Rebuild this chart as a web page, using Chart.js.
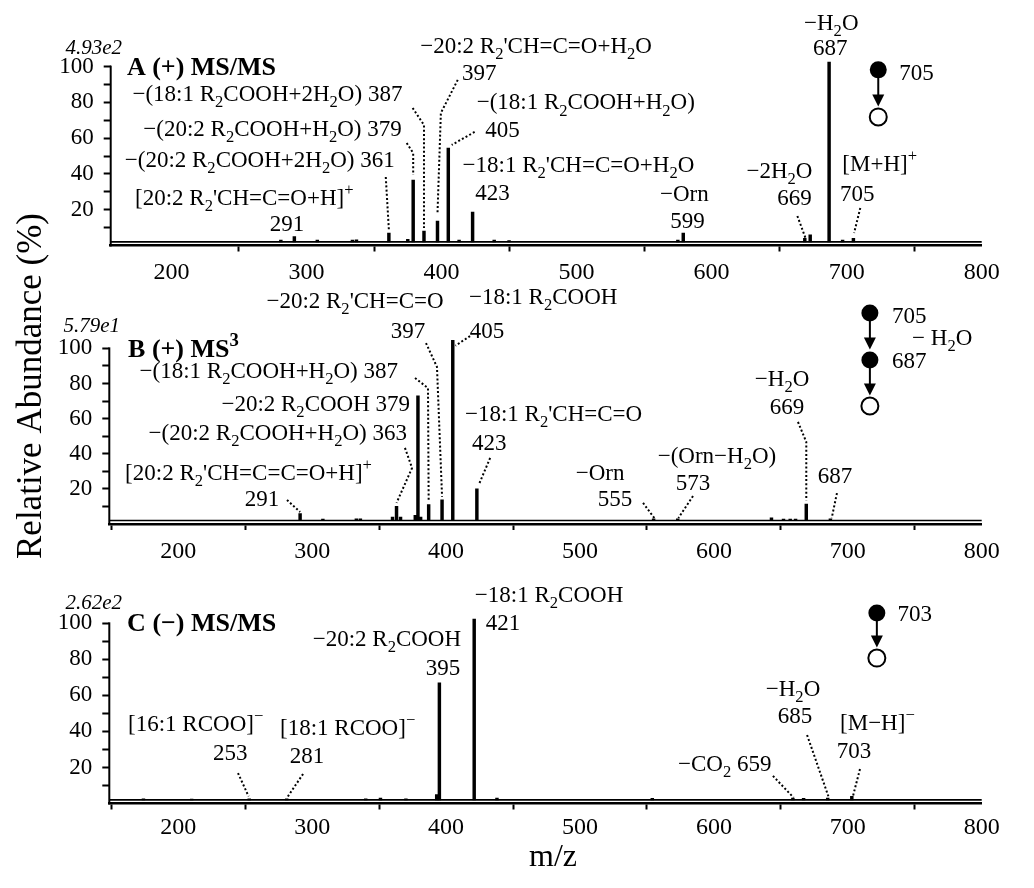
<!DOCTYPE html>
<html><head><meta charset="utf-8">
<script src="https://cdn.jsdelivr.net/npm/chart.js@4.4.1/dist/chart.umd.min.js"></script>
<style>
html,body{margin:0;padding:0;background:#fff;}
#wrap{position:relative;width:1034px;height:888px;background:#fff;}
canvas{position:absolute;left:0;top:0;}
</style></head><body>
<div id="wrap">
<canvas id="cA" width="1034" height="888"></canvas>
<canvas id="cB" width="1034" height="888"></canvas>
<canvas id="cC" width="1034" height="888"></canvas>
</div>
<script>
// ---------- DATA ----------
const xTickValues = [200, 300, 400, 500, 600, 700, 800];
const yTickValues = [10, 20, 30, 40, 50, 60, 70, 80, 90, 100];
const yTickLabels = [20, 40, 60, 80, 100];
const noiseFloor = 2;

// Panel A: (+) MS/MS of m/z 705
const mzA = [281, 291, 308, 334, 337, 361, 375, 379, 387, 397, 405, 413, 423, 439, 450, 575, 579, 669, 673, 687, 697, 705];
const abA = [3, 5, 3, 3, 3.2, 7, 3.5, 36.6, 8, 13.7, 54.5, 3, 18.7, 3, 2.8, 3, 7, 4, 6, 102.6, 3, 4];

// Panel B: (+) MS3 705 -> 687
const mzB = [291, 308, 333, 336, 360, 363, 366, 377, 379, 381, 387, 397, 405, 423, 555, 573, 643, 652, 657, 661, 669, 687];
const abB = [6, 2.8, 3, 3, 4, 10, 4, 5, 73, 4, 11, 13.7, 104.5, 20, 3, 3, 3.5, 2.8, 2.8, 2.8, 11.4, 3];

// Panel C: (-) MS/MS of m/z 703
const mzC = [174, 210, 253, 281, 340, 351, 370, 393, 395, 421, 438, 554, 659, 667, 685, 703];
const abC = [2.6, 2.5, 2.6, 2.6, 2.6, 3, 2.6, 5, 66.9, 102.4, 3, 2.8, 3, 2.8, 3, 4];

// ---------- ANNOTATIONS (data coordinates) ----------
const notesA = [
 {t:'4.93e2', x:163.4, y:111, a:'right', f:'italic', s:21},
 {t:'A (+) MS/MS', x:167, y:100, a:'left', f:'bold', s:26},
 {t:"−20:2 R_{2}'CH=C=O+H_{2}O", x:470, y:112},
 {t:'397', x:428, y:97},
 {t:'−(18:1 R_{2}COOH+2H_{2}O) 387', x:371, y:85.3, a:'right'},
 {t:'−(20:2 R_{2}COOH+H_{2}O) 379', x:370.5, y:65.7, a:'right'},
 {t:'−(20:2 R_{2}COOH+2H_{2}O) 361', x:365.3, y:48.4, a:'right'},
 {t:"[20:2 R_{2}'CH=C=O+H]^{+}", x:173, y:27.1, a:'left'},
 {t:'291', x:285.5, y:12.6},
 {t:'−(18:1 R_{2}COOH+H_{2}O)', x:426, y:80.3, a:'left'},
 {t:'405', x:445.2, y:64.8},
 {t:"−18:1 R_{2}'CH=C=O+H_{2}O", x:415.6, y:45.6, a:'left'},
 {t:'423', x:437.7, y:29.9},
 {t:'−Orn', x:579.8, y:29.4},
 {t:'599', x:582.1, y:14.3},
 {t:'−2H_{2}O', x:650.2, y:42.2},
 {t:'669', x:661.3, y:27.1},
 {t:'−H_{2}O', x:688.6, y:125},
 {t:'687', x:687.9, y:110.5},
 {t:'[M+H]^{+}', x:696.8, y:46.1, a:'left'},
 {t:'705', x:707.9, y:29.4},
 {t:'705', x:738.9, y:97, a:'left'}
];
const leadersA = [
 [[412,92.6],[399.5,74.1],[397,18]],
 [[378.6,76.9],[387,67.4],[387,9.8]],
 [[374.2,57.3],[379,51.7],[379,39.4]],
 [[358.7,38.3],[361,8.7]],
 [[424.5,63.5],[407.5,56.2]],
 [[663.5,16.5],[669.5,4.2]],
 [[710.1,21],[705.5,7]]
];
const iconA = {x:723.4, nodes:[[98.2,1],[71.9,0]]};

const notesB = [
 {t:'5.79e1', x:156.5, y:113.3, a:'right', f:'italic', s:21},
 {t:'B (+) MS^{3}', x:162.5, y:100.2, a:'left', f:'bold', s:26},
 {t:"−20:2 R_{2}'CH=C=O", x:332, y:127.5},
 {t:'397', x:371.6, y:110.4},
 {t:'405', x:430.6, y:110.4},
 {t:'−18:1 R_{2}COOH', x:472.5, y:129.8},
 {t:'−(18:1 R_{2}COOH+H_{2}O) 387', x:364.1, y:87.6, a:'right'},
 {t:'−20:2 R_{2}COOH 379', x:373.1, y:68.9, a:'right'},
 {t:'−(20:2 R_{2}COOH+H_{2}O) 363', x:370.8, y:52.4, a:'right'},
 {t:"[20:2 R_{2}'CH=C=C=O+H]^{+}", x:160.3, y:29.6, a:'left'},
 {t:'291', x:262.5, y:14.8},
 {t:"−18:1 R_{2}'CH=C=O", x:414.1, y:63.2, a:'left'},
 {t:'423', x:432.2, y:46.7},
 {t:'−Orn', x:515, y:29.6},
 {t:'555', x:526.2, y:14.8},
 {t:'−(Orn−H_{2}O)', x:602.3, y:39.3},
 {t:'573', x:584.4, y:23.9},
 {t:'−H_{2}O', x:650.9, y:83.1},
 {t:'669', x:654.6, y:67.2},
 {t:'687', x:690.4, y:27.9},
 {t:'705', x:733, y:119, a:'left'},
 {t:'687', x:733, y:93.3, a:'left'},
 {t:'− H_{2}O', x:748, y:106.4, a:'left'}
];
const leadersB = [
 [[385,103],[393.2,89.4],[397,15.5]],
 [[417.9,107],[407,101.5]],
 [[376.8,83.1],[386.5,77.4],[387,13]],
 [[369.3,43.3],[374.6,31.9],[363,12]],
 [[281.2,13.7],[291,6.8]],
 [[432.9,37.6],[424.5,22.5]],
 [[547.1,12],[555.5,3.4]],
 [[584.4,15.9],[573.5,3.4]],
 [[662.8,58.1],[669,46.7],[669,13.5]],
 [[691.9,17.6],[688,3.4]]
];
const iconB = {x:716.5, nodes:[[120.1,1],[93.3,1],[67.2,0]]};

const notesC = [
 {t:'2.62e2', x:158, y:111.8, a:'right', f:'italic', s:21},
 {t:'C (−) MS/MS', x:161.8, y:100.7, a:'left', f:'bold', s:26},
 {t:'−18:1 R_{2}COOH', x:476.9, y:116.3},
 {t:'421', x:442.5, y:100.7},
 {t:'−20:2 R_{2}COOH', x:355.8, y:91.8},
 {t:'395', x:397.7, y:75.7},
 {t:'[16:1 RCOO]^{−}', x:162.5, y:44.7, a:'left'},
 {t:'253', x:238.8, y:28.6},
 {t:'[18:1 RCOO]^{−}', x:276, y:42.5, a:'left'},
 {t:'281', x:296.2, y:26.9},
 {t:'−CO_{2} 659', x:573.2, y:22.5, a:'left'},
 {t:'−H_{2}O', x:659.1, y:64.1},
 {t:'685', x:660.6, y:49.1},
 {t:'[M−H]^{−}', x:694.2, y:45.2, a:'left'},
 {t:'703', x:704.6, y:29.7},
 {t:'703', x:737.2, y:105.7, a:'left'}
];
const leadersC = [
 [[244.6,16.9],[252.5,4]],
 [[293.2,16.4],[281.5,3.5]],
 [[644.1,15.3],[659.5,3.3]],
 [[669.6,38],[685.5,4]],
 [[709.1,19.1],[704,4.5]]
];
const iconC = {x:721.7, nodes:[[105.7,1],[80.7,0]]};

// ---------- DRAWING ----------
const SERIF = "'Liberation Serif', 'Times New Roman', serif";

function richText(ctx, str, x, y, size, align, style) {
  const segs = [];
  const re = /([_^])\{([^}]*)\}/g;
  let last = 0, m;
  while ((m = re.exec(str))) {
    if (m.index > last) segs.push({t: str.slice(last, m.index), k: 0});
    segs.push({t: m[2], k: m[1] === '_' ? 1 : 2});
    last = re.lastIndex;
  }
  if (last < str.length) segs.push({t: str.slice(last), k: 0});
  const fontFor = k => `${style} ${k ? size * 0.72 : size}px ${SERIF}`;
  let w = 0;
  segs.forEach(s => { ctx.font = fontFor(s.k); s.w = ctx.measureText(s.t).width; w += s.w; });
  let cx = align === 'left' ? x : align === 'right' ? x - w : x - w / 2;
  const base = y + size * 0.33;
  ctx.textBaseline = 'alphabetic';
  ctx.textAlign = 'left';
  segs.forEach(s => {
    ctx.font = fontFor(s.k);
    const dy = s.k === 1 ? size * 0.28 : s.k === 2 ? -size * 0.42 : 0;
    ctx.fillText(s.t, cx, base + dy);
    cx += s.w;
  });
}

function panelPlugin(P) {
  return {
    id: 'ann' + P.name,
    afterDraw(chart) {
      const {ctx, chartArea: ca} = chart;
      const xs = chart.scales.x, ys = chart.scales.y;
      const X = v => xs.getPixelForValue(v), Y = v => ys.getPixelForValue(v);
      ctx.save();
      ctx.strokeStyle = '#000'; ctx.fillStyle = '#000';
      // y axis line 0..100
      ctx.lineWidth = 2;
      ctx.beginPath(); ctx.moveTo(ca.left, Y(0) + 1); ctx.lineTo(ca.left, Y(100) - 1); ctx.stroke();
      // spectrum baseline
      ctx.lineWidth = 1.6;
      ctx.beginPath(); ctx.moveTo(ca.left, Y(noiseFloor)); ctx.lineTo(ca.right, Y(noiseFloor)); ctx.stroke();
      // dotted leaders
      ctx.setLineDash([2, 2.2]); ctx.lineWidth = 2;
      P.leaders.forEach(pts => {
        ctx.beginPath();
        pts.forEach(([mv, v], i) => i ? ctx.lineTo(X(mv), Y(v)) : ctx.moveTo(X(mv), Y(v)));
        ctx.stroke();
      });
      ctx.setLineDash([]);
      // texts
      P.notes.forEach(n => richText(ctx, n.t, X(n.x), Y(n.y), n.s || 23, n.a || 'center', n.f || ''));
      // precursor icon
      const r = 8.5, ix = X(P.icon.x);
      const nodes = P.icon.nodes;
      for (let i = 0; i < nodes.length - 1; i++) {
        const y1 = Y(nodes[i][0]), y2 = Y(nodes[i + 1][0]);
        const tip = y2 - r - 2;
        ctx.lineWidth = 2;
        ctx.beginPath(); ctx.moveTo(ix, y1); ctx.lineTo(ix, tip - 10); ctx.stroke();
        ctx.beginPath(); ctx.moveTo(ix - 6, tip - 12); ctx.lineTo(ix + 6, tip - 12); ctx.lineTo(ix, tip); ctx.closePath(); ctx.fill();
      }
      nodes.forEach(([v, filled]) => {
        ctx.beginPath(); ctx.arc(ix, Y(v), r, 0, Math.PI * 2);
        if (filled) { ctx.fillStyle = '#000'; ctx.fill(); }
        else { ctx.fillStyle = '#fff'; ctx.fill(); ctx.lineWidth = 2; ctx.stroke(); ctx.fillStyle = '#000'; }
      });
      if (P.extra) P.extra(ctx, chart);
      ctx.restore();
    }
  };
}

function makePanel(id, mz, ab, P) {
  const H = 888, XH = 40;
  return new Chart(document.getElementById(id), {
    type: 'bar',
    data: { datasets: [{
      data: mz.map((m, i) => ({x: m, y: ab[i]})),
      backgroundColor: '#000', borderWidth: 0, barThickness: 2.8, base: noiseFloor
    }]},
    options: {
      responsive: false, animation: false, events: [],
      layout: { padding: { left: 0, right: 1034 - P.right, top: P.top, bottom: H - P.bottom - XH } },
      plugins: { legend: {display: false}, tooltip: {enabled: false}, title: {display: false} },
      scales: {
        x: {
          type: 'linear', min: P.xmin, max: 800, offset: false,
          afterBuildTicks: s => { s.ticks = xTickValues.map(v => ({value: v})); },
          afterFit: s => { s.height = XH; },
          ticks: { font: {family: SERIF, size: 24}, color: '#000', padding: P.xpad, maxRotation: 0, autoSkip: false },
          grid: { display: true, drawOnChartArea: false, drawTicks: true, tickLength: 6, tickWidth: 2, tickColor: '#000' },
          border: { display: true, color: '#000', width: 2.5 }
        },
        y: {
          min: 0, max: P.ymax,
          afterBuildTicks: s => { s.ticks = yTickValues.map(v => ({value: v})); },
          afterFit: s => { s.width = P.left; },
          ticks: { font: {family: SERIF, size: 23}, color: '#000', padding: 10, autoSkip: false,
                   callback: v => yTickLabels.includes(v) ? String(v) : '' },
          grid: { display: true, drawOnChartArea: false, drawTicks: true, tickLength: 7, tickWidth: 2, tickColor: '#000' },
          border: { display: false }
        }
      }
    },
    plugins: [panelPlugin(P)]
  });
}

makePanel('cA', mzA, abA, {name: 'A', left: 110.7, right: 981.7, top: 59.5, bottom: 245.5, xmin: 155, ymax: 104, xpad: 7,
  notes: notesA, leaders: leadersA, icon: iconA});
makePanel('cB', mzB, abB, {name: 'B', left: 109.3, right: 981.7, top: 337.8, bottom: 524, xmin: 148.5, ymax: 106, xpad: 7,
  notes: notesB, leaders: leadersB, icon: iconB,
  extra: (ctx) => {
    ctx.save();
    ctx.translate(41, 386); ctx.rotate(-Math.PI / 2);
    ctx.font = `35px ${SERIF}`; ctx.textAlign = 'center'; ctx.textBaseline = 'alphabetic';
    ctx.fillText('Relative Abundance (%)', 0, 0);
    ctx.restore();
  }});
makePanel('cC', mzC, abC, {name: 'C', left: 109.3, right: 981.7, top: 616.1, bottom: 803.5, xmin: 148.5, ymax: 104, xpad: 4,
  notes: notesC, leaders: leadersC, icon: iconC,
  extra: (ctx) => {
    ctx.font = `32px ${SERIF}`; ctx.textAlign = 'center'; ctx.textBaseline = 'alphabetic';
    ctx.fillText('m/z', 553, 866);
  }});
</script>
</body></html>
